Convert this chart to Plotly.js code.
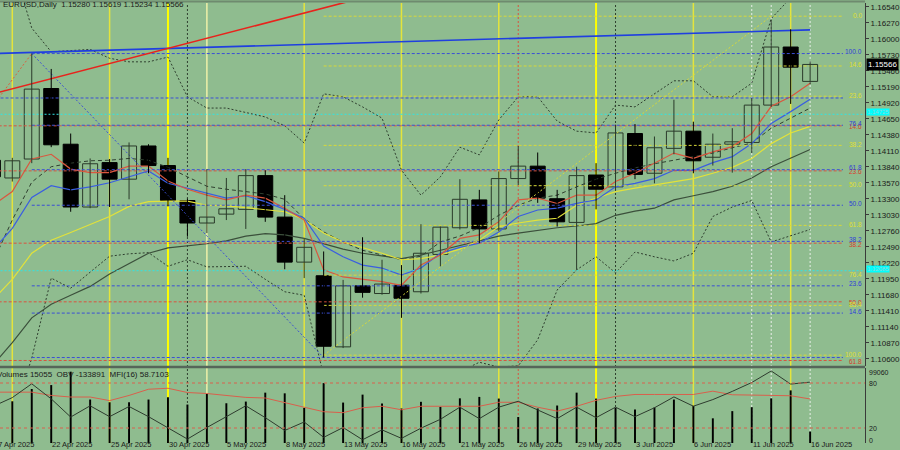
<!DOCTYPE html>
<html><head><meta charset="utf-8">
<script src="https://cdn.plot.ly/plotly-3.0.1.min.js"></script>
<style>html,body{margin:0;padding:0;background:#8fbc8f;}#chart{width:900px;height:450px;}</style>
</head><body><div id="chart"></div>
<script>
// ---------- data ----------
const dates = ['17 Apr','18 Apr','21 Apr','22 Apr','23 Apr','24 Apr','25 Apr','28 Apr','29 Apr','30 Apr',
 '1 May','2 May','5 May','6 May','7 May','8 May','9 May','12 May','13 May','14 May','15 May','16 May','19 May','20 May','21 May','22 May','23 May','26 May','27 May','28 May','29 May','30 May',
 '2 Jun','3 Jun','4 Jun','5 Jun','6 Jun','9 Jun','10 Jun','11 Jun','12 Jun','13 Jun','16 Jun'];
const open  = [1.1395,1.1365,1.1397,1.1516,1.1422,1.1316,1.1391,1.1363,1.1419,1.1386,1.1327,1.1289,1.1304,1.1312,1.1369,1.1299,1.1223,1.1200,1.1080,1.1183,1.1170,1.1184,1.1173,1.1236,1.1281,1.1328,1.1279,1.1364,1.1385,1.1330,1.1290,1.1370,1.1350,1.1440,1.1373,1.1415,1.1444,1.1400,1.1422,1.1425,1.1488,1.1586,1.15280];
const high  = [1.1424,1.1399,1.1575,1.1549,1.1440,1.1398,1.1397,1.1425,1.1422,1.1399,1.1330,1.1380,1.1365,1.1380,1.1378,1.1336,1.1262,1.1241,1.1193,1.1265,1.1227,1.1218,1.1287,1.1283,1.1363,1.1345,1.1376,1.1419,1.1408,1.1345,1.1384,1.1390,1.1455,1.1456,1.1435,1.1497,1.1460,1.1440,1.1449,1.1500,1.1632,1.1616,1.15619];
const low   = [1.1334,1.1359,1.1390,1.1417,1.1308,1.1314,1.1316,1.1329,1.1373,1.1317,1.1266,1.1272,1.1294,1.1279,1.1291,1.1211,1.1196,1.1062,1.1078,1.1163,1.1168,1.1129,1.1170,1.1216,1.1278,1.1255,1.1275,1.1353,1.1323,1.1283,1.1210,1.1312,1.1345,1.1363,1.1356,1.1405,1.1373,1.1386,1.1374,1.1407,1.1485,1.1490,1.15234];
const close = [1.1367,1.1394,1.1515,1.1421,1.1316,1.1389,1.1363,1.1419,1.1386,1.1327,1.1289,1.1299,1.1313,1.1369,1.1299,1.1223,1.1248,1.1081,1.1183,1.1172,1.1186,1.1162,1.1238,1.1282,1.1329,1.1279,1.1364,1.1385,1.1331,1.1291,1.1369,1.1346,1.1441,1.1371,1.1416,1.1444,1.1394,1.1422,1.1426,1.1488,1.1586,1.1552,1.15566];

const maRed    = [1.1319,1.1342,1.1397,1.1405,1.1380,1.1374,1.1374,1.1385,1.1385,1.1360,1.1346,1.1336,1.1328,1.1336,1.1331,1.1314,1.1294,1.1210,1.1198,1.1194,1.1190,1.1184,1.1218,1.1235,1.1263,1.1269,1.1291,1.1328,1.1331,1.1322,1.1336,1.1336,1.1359,1.1373,1.1390,1.1407,1.1398,1.1409,1.1418,1.1440,1.1486,1.1502,1.1525];
const maBlue   = [1.1243,1.1280,1.1332,1.1352,1.1345,1.1350,1.1357,1.1367,1.1377,1.1356,1.1348,1.1339,1.1331,1.1335,1.1325,1.1312,1.1297,1.1250,1.1232,1.1218,1.1213,1.1201,1.1213,1.1238,1.1248,1.1255,1.1274,1.1300,1.1311,1.1314,1.1322,1.1328,1.1350,1.1356,1.1364,1.1378,1.1378,1.1391,1.1401,1.1423,1.1457,1.1477,1.1498];
const maYellow = [1.1159,1.1194,1.1238,1.1260,1.1273,1.1287,1.1300,1.1317,1.1325,1.1326,1.1326,1.1319,1.1318,1.1315,1.1312,1.1308,1.1295,1.1272,1.1257,1.1248,1.1238,1.1227,1.1229,1.1235,1.1245,1.1260,1.1283,1.1289,1.1294,1.1297,1.1319,1.1331,1.1342,1.1348,1.1353,1.1359,1.1364,1.1373,1.1383,1.1398,1.1423,1.1441,1.1452];
const maGray   = [1.1049,1.1087,1.1129,1.1152,1.1167,1.1182,1.1203,1.1220,1.1238,1.1247,1.1250,1.1254,1.1259,1.1267,1.1271,1.1269,1.1263,1.1254,1.1245,1.1238,1.1233,1.1229,1.1235,1.1243,1.1250,1.1259,1.1267,1.1272,1.1277,1.1281,1.1284,1.1288,1.1302,1.1309,1.1314,1.1328,1.1335,1.1342,1.1351,1.1365,1.1384,1.1398,1.1413];
const bandMid  = [1.1223,1.1294,1.1358,1.1384,1.1390,1.1394,1.1395,1.1398,1.1395,1.1383,1.1367,1.1351,1.1346,1.1342,1.1338,1.1329,1.1296,1.1274,1.1257,1.1243,1.1235,1.1227,1.1233,1.1257,1.1267,1.1281,1.1302,1.1319,1.1331,1.1336,1.1350,1.1363,1.1373,1.1382,1.1389,1.1395,1.1400,1.1407,1.1416,1.1424,1.1449,1.1466,1.1483];
const bandUp   = [1.1767,1.1728,1.1618,1.1578,1.1580,1.1582,1.1567,1.1561,1.1561,1.1569,1.1502,1.1483,1.1483,1.1476,1.1468,1.1453,1.1424,1.1507,1.1502,1.1485,1.1466,1.1378,1.1336,1.1367,1.1417,1.1404,1.1463,1.1502,1.1502,1.1461,1.1444,1.1441,1.1488,1.1485,1.1507,1.1529,1.1529,1.1502,1.1502,1.1525,1.1634,1.1669,1.1699];
const bandLow  = [1.0855,1.0957,1.1061,1.1196,1.1179,1.1206,1.1233,1.1237,1.1239,1.1216,1.1227,1.1215,1.1216,1.1216,1.1194,1.1173,1.1167,1.1032,1.1024,1.1015,1.1015,1.1015,1.1024,1.1032,1.1038,1.1054,1.1046,1.1048,1.1092,1.1176,1.1210,1.1232,1.1205,1.1240,1.1232,1.1225,1.1238,1.1300,1.1316,1.1327,1.1257,1.1267,1.1278];

const volume = [62000,55100,71300,76500,94200,57400,53800,53800,57400,60300,50800,64800,52500,54700,66500,65600,46500,79100,53400,63900,52100,45600,54400,47800,59000,60900,58700,34300,45600,49500,66500,58700,46500,44300,46900,57400,49100,32600,42100,47300,59000,69500,15055];
const obv = [-256200,-211600,-142300,-218000,-309100,-252700,-307100,-256200,-307100,-365100,-419500,-361600,-307100,-252700,-312100,-376400,-333900,-411100,-361600,-423000,-373500,-416000,-365100,-320500,-259600,-317000,-259600,-229900,-273500,-317000,-259600,-312100,-259600,-307100,-262600,-208100,-254700,-221500,-180400,-135900,-78000,-143800,-133891];
const mfi = [67.8,67.8,67.8,63.4,61.3,61.3,56.5,63.4,71.7,73.0,67.3,66.0,63.4,60.8,60.0,53.5,47.7,41.7,40.4,47.0,49.0,44.3,49.0,49.0,49.0,49.0,54.3,54.3,47.7,42.5,49.0,56.9,62.1,64.7,64.7,64.7,64.7,69.1,64.3,63.9,63.9,63.0,58.7103];

// Fibonacci tools (level labels and level prices), start bar of each
const yellowFibLabels = ['0.0','14.6','23.6','38.2','50.0','61.8','76.4','85.4','100.0'];
const yellowFibPrices = [1.1638,1.1554,1.1503,1.1420,1.1352,1.1285,1.1201,1.1150,1.1066];
const yellowFibStart = '12 May';
const blueFibLabels = ['','14.6','23.6','38.2','50.0','61.8','76.4','100.0'];
const blueFibPrices = [1.1062,1.1137,1.1183,1.1258,1.1319,1.1379,1.1454,1.1575];
const blueFibStart = '21 Apr';
const redFibLabels = ['14.6','23.6','38.2','50.0','61.8'];
const redFibPrices = [1.1453,1.1377,1.1255,1.1156,1.1057];
// fib diagonals and trendlines: [bar position, price]
const yellowFibDiag = {x:[17,40], y:[1.1066,1.1638]};
const blueFibDiag   = {x:[2,17],  y:[1.1575,1.1062]};
const redFibDiag    = {x:[-17,2], y:[1.0737,1.1575]};
const blueTrend     = {x:[0,42],  y:[1.1575,1.1615]};
const redTrend      = {x:[0,21],  y:[1.1507,1.1686]};
const hLineBlue  = [1.1500];
const hLineCyan  = [1.14725,1.12085];
const cyanLabels = ['1.14725','1.12085'];

const vlineDates = ['18 Apr','25 Apr','30 Apr','1 May','2 May','9 May','16 May','23 May','26 May','30 May','2 Jun','6 Jun','11 Jun','12 Jun','13 Jun','16 Jun'];
const vlineKinds = ['yellow','yellow','bright','darkdot','pale','yellow','yellow','yellow','reddot','bright','darkdot','yellow','whitedot','whitedot','yellow','whitedot'];

const tickLabels = ['17 Apr 2025','22 Apr 2025','25 Apr 2025','30 Apr 2025','5 May 2025','8 May 2025','13 May 2025','16 May 2025','21 May 2025','26 May 2025','29 May 2025','3 Jun 2025','6 Jun 2025','11 Jun 2025','16 Jun 2025'];
const priceTicks = [1.16540,1.16270,1.16000,1.15730,1.15460,1.15190,1.14920,1.14650,1.14380,1.14110,1.13840,1.13570,1.13300,1.13030,1.12760,1.12490,1.12220,1.11950,1.11680,1.11410,1.11140,1.10870,1.10600];
const headerText = 'EURUSD,Daily  1.15280 1.15619 1.15234 1.15566';
const subHeaderText = 'Volumes 15055  OBV -133891  MFI(16) 58.7103';
const lastPriceLabel = '1.15566';

// ---------- build ----------
const pos = dates.map((d,i)=>i);
const X0 = 0.368, X1 = 44.82, FIB_END = 43.69;
const FONT = 'Liberation Sans, Arial, sans-serif';
const traces = [];
function line(x,y,color,width,dash,yaxis){
  traces.push({type:'scatter',mode:'lines',x:x,y:y,yaxis:yaxis||'y',line:{color:color,width:width,dash:dash||'solid'},hoverinfo:'skip',showlegend:false,connectgaps:false});
}
function hlines(prices,start,color,dash){
  const x=[],y=[];
  prices.forEach(p=>{x.push(start,FIB_END,null);y.push(p,p,null);});
  line(x,y,color,1,dash);
}
// indicators
line(pos,bandUp,'#2f3f2f',1,'2px,2px');
line(pos,bandLow,'#2f3f2f',1,'2px,2px');
line(pos,bandMid,'#2f3f2f',1,'4px,3px');
line(pos,maGray,'#3b4f3b',1.2);
line(pos,maYellow,'#e2e23a',1.2);
line(pos,maBlue,'#3a5ee0',1.2);
line(pos,maRed,'#d9573f',1.2);
// fib lines
hlines(redFibPrices,-20,'#d9533f','3px,2px');
hlines(blueFibPrices,dates.indexOf(blueFibStart),'#3b4fd6','3px,2px');
hlines(hLineBlue,X0-1,'#3b4fd6','3px,2px');
hlines(yellowFibPrices,dates.indexOf(yellowFibStart),'#d8d83a','3px,2px');
hLineCyan.forEach(p=>line([X0-1,X1+1],[p,p],'#2ee6e6',1,'2px,2px'));
line(redFibDiag.x,redFibDiag.y,'#d9603f',1,'2px,2px');
line(blueFibDiag.x,blueFibDiag.y,'#3b4fd6',1,'2px,2px');
line(yellowFibDiag.x,yellowFibDiag.y,'#d8d83a',1,'2px,2px');
line(blueTrend.x,blueTrend.y,'#1f3fe0',1.6);
line(redTrend.x,redTrend.y,'#e8231c',1.6);

// candles
function wick(up,color){
  const x=[],y=[];
  pos.forEach(i=>{ if((close[i]>=open[i])===up){x.push(i,i,null);y.push(low[i],high[i],null);} });
  line(x,y,color,1);
}
function body(up,fill,lc){
  const x=[],b=[],h=[];
  pos.forEach(i=>{ if((close[i]>=open[i])===up){x.push(i);b.push(Math.min(open[i],close[i]));h.push(Math.max(Math.abs(close[i]-open[i]),0.00005));} });
  traces.push({type:'bar',x:x,y:h,base:b,width:0.77,marker:{color:fill,line:{color:lc,width:1}},hoverinfo:'skip',showlegend:false});
}
wick(true,'#2a3a2a'); wick(false,'#000000');
body(true,'#8fbc8f','#2a3a2a'); body(false,'#000000','#000000');

// lower panel
traces.push({type:'bar',x:pos,y:volume,yaxis:'y2',width:0.1,marker:{color:'#000000',line:{width:0}},hoverinfo:'skip',showlegend:false});
line(pos,mfi,'#d9604c',1,'solid','y3');
line(pos,obv,'#2e3b2e',1,'solid','y4');

// shapes
const vStyle = {
  yellow:{color:'#e4e43c',width:1.5,dash:'solid'},
  bright:{color:'#ffff00',width:2,dash:'solid'},
  pale:{color:'#eef0a8',width:1.5,dash:'solid'},
  darkdot:{color:'#2f3f2f',width:1,dash:'2px,2px'},
  reddot:{color:'#d9533f',width:1,dash:'2px,2px'},
  whitedot:{color:'#e8efe8',width:1,dash:'2px,2px'}
};
const SEP = 0.1727;
const shapes = vlineDates.map((d,k)=>({type:'line',xref:'x',yref:'paper',x0:dates.indexOf(d),x1:dates.indexOf(d),y0:0,y1:1,line:vStyle[vlineKinds[k]],layer:'below'}));
shapes.push({type:'line',xref:'paper',yref:'y3',x0:0,x1:1,y0:80,y1:80,line:{color:'#d9604c',width:1,dash:'3px,3px'}});
shapes.push({type:'line',xref:'paper',yref:'y3',x0:0,x1:1,y0:20,y1:20,line:{color:'#d9604c',width:1,dash:'3px,3px'}});
shapes.push({type:'line',xref:'paper',yref:'paper',x0:0,x1:1,y0:SEP,y1:SEP,line:{color:'#56665a',width:2.5}});
shapes.push({type:'line',xref:'paper',yref:'paper',x0:0,x1:1,y0:1.0034,y1:1.0034,line:{color:'#6f8a6f',width:2}});

// annotations
const ann = [];
const PX = 19.46;
tickLabels.forEach(t=>{
  const p = dates.indexOf(t.replace(' 2025',''));
  ann.push({xref:'x',yref:'paper',x:p+0.4,xshift:-0.4*PX,y:0,yshift:-6.5,xanchor:'left',yanchor:'bottom',text:t,showarrow:false,font:{family:FONT,size:7.5,color:'#1a1a1a'},borderpad:0});
});
function fibLabels(labels,prices,color,shift){
  labels.forEach((t,k)=>{ if(t) ann.push({xref:'paper',yref:'y',x:862.5/865,y:prices[k],yshift:shift,xanchor:'right',yanchor:'middle',text:t,showarrow:false,font:{family:FONT,size:6.5,color:color},borderpad:0}); });
}
fibLabels(redFibLabels,redFibPrices,'#d9402c',-1);
fibLabels(yellowFibLabels,yellowFibPrices,'#e0e030',1);
fibLabels(blueFibLabels,blueFibPrices,'#2e3ed8',2);
ann.push({xref:'paper',yref:'paper',x:0,xshift:2,y:1,yshift:-1,xanchor:'left',yanchor:'middle',text:headerText,showarrow:false,font:{family:FONT,size:8,color:'#1a1a1a'},borderpad:0});
ann.push({xref:'paper',yref:'paper',x:0,xshift:-4,y:SEP,yshift:-2,xanchor:'left',yanchor:'top',text:subHeaderText,showarrow:false,font:{family:FONT,size:8,color:'#1a1a1a'},borderpad:0});
ann.push({xref:'paper',yref:'y',x:1,xshift:1,y:close[close.length-1],xanchor:'left',yanchor:'middle',text:lastPriceLabel,showarrow:false,bgcolor:'#000000',font:{family:FONT,size:8,color:'#ffffff'},borderpad:1});
hLineCyan.forEach((p,k)=>ann.push({xref:'paper',yref:'y',x:1,xshift:1,y:p,yshift:2,xanchor:'left',yanchor:'middle',text:cyanLabels[k],showarrow:false,bgcolor:'#00ffff',font:{family:FONT,size:6,color:'#8fd8d8'},borderpad:0}));
ann.push({xref:'paper',yref:'y2',x:1,xshift:3,y:99060,yanchor:'top',xanchor:'left',text:'99060',showarrow:false,font:{family:FONT,size:7,color:'#1a1a1a'},borderpad:0});
[80,20,0].forEach(v=>ann.push({xref:'paper',yref:'y3',x:1,xshift:3,y:v,yshift:(v===0?3:0),yanchor:'middle',xanchor:'left',text:String(v),showarrow:false,font:{family:FONT,size:7,color:'#1a1a1a'},borderpad:0}));

const layout = {
  width:900,height:450,
  margin:{l:0,r:35,t:3,b:7},
  paper_bgcolor:'#8fbc8f',plot_bgcolor:'#8fbc8f',
  showlegend:false,barmode:'overlay',
  font:{family:FONT,size:8,color:'#1a1a1a'},
  xaxis:{range:[X0,X1],anchor:'y2',showticklabels:false,showgrid:false,zeroline:false,showline:false,ticks:''},
  yaxis:{domain:[0.175,1],range:[1.10477,1.16603],side:'right',tickvals:priceTicks,tickformat:'.5f',
    showgrid:false,zeroline:false,showline:true,linecolor:'#3a3a3a',linewidth:1,ticks:'outside',ticklen:3,tickcolor:'#3a3a3a',
    tickfont:{family:FONT,size:8,color:'#1a1a1a'}},
  yaxis2:{domain:[0,0.17045],range:[0,99060],side:'right',showticklabels:false,showgrid:false,zeroline:false,showline:true,linecolor:'#3a3a3a',linewidth:1,ticks:''},
  yaxis3:{overlaying:'y2',range:[0,100],visible:false},
  yaxis4:{overlaying:'y2',range:[-439306,-63106],visible:false},
  shapes:shapes,annotations:ann
};
Plotly.newPlot('chart',traces,layout,{displayModeBar:false,staticPlot:true});
</script></body></html>
